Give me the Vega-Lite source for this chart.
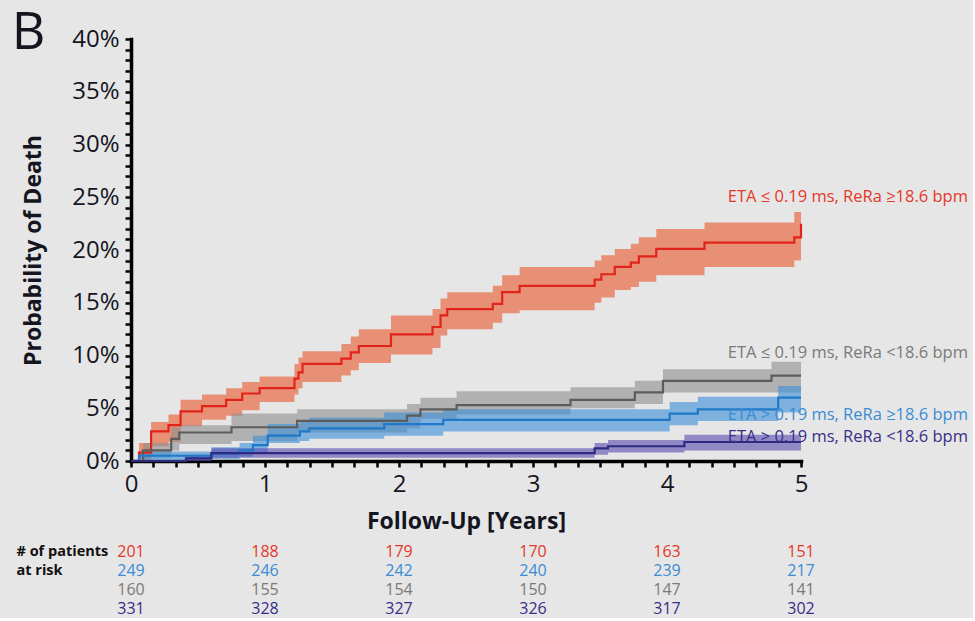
{
  "$schema": "https://vega.github.io/schema/vega-lite/v6.json",
  "background": "#e6e6e6",
  "padding": {"left": 11, "top": 7, "right": 5, "bottom": 0},
  "config": {
    "view": {"stroke": null},
    "font": "Open Sans",
    "text": {"font": "Open Sans"},
    "axis": {"labelOverlap": false, "labelBound": false}
  },
  "datasets": {
    "curves": [
      {"g": "ETA ≤ 0.19 ms, ReRa ≥18.6 bpm", "t": 0, "p": 0, "lo": 0, "hi": 0},
      {"g": "ETA ≤ 0.19 ms, ReRa ≥18.6 bpm", "t": 0.06, "p": 0.8, "lo": 0.1, "hi": 1.7},
      {"g": "ETA ≤ 0.19 ms, ReRa ≥18.6 bpm", "t": 0.15, "p": 2.8, "lo": 1.4, "hi": 3.7},
      {"g": "ETA ≤ 0.19 ms, ReRa ≥18.6 bpm", "t": 0.28, "p": 3.4, "lo": 1.8, "hi": 4.4},
      {"g": "ETA ≤ 0.19 ms, ReRa ≥18.6 bpm", "t": 0.37, "p": 4.7, "lo": 3.3, "hi": 5.8},
      {"g": "ETA ≤ 0.19 ms, ReRa ≥18.6 bpm", "t": 0.53, "p": 5.2, "lo": 3.9, "hi": 6.3},
      {"g": "ETA ≤ 0.19 ms, ReRa ≥18.6 bpm", "t": 0.71, "p": 5.8, "lo": 4.3, "hi": 6.9},
      {"g": "ETA ≤ 0.19 ms, ReRa ≥18.6 bpm", "t": 0.83, "p": 6.4, "lo": 4.8, "hi": 7.5},
      {"g": "ETA ≤ 0.19 ms, ReRa ≥18.6 bpm", "t": 0.96, "p": 6.9, "lo": 5.6, "hi": 8.0},
      {"g": "ETA ≤ 0.19 ms, ReRa ≥18.6 bpm", "t": 1.22, "p": 7.8, "lo": 6.3, "hi": 9.2},
      {"g": "ETA ≤ 0.19 ms, ReRa ≥18.6 bpm", "t": 1.25, "p": 8.4, "lo": 6.9, "hi": 9.8},
      {"g": "ETA ≤ 0.19 ms, ReRa ≥18.6 bpm", "t": 1.28, "p": 9.2, "lo": 7.5, "hi": 10.4},
      {"g": "ETA ≤ 0.19 ms, ReRa ≥18.6 bpm", "t": 1.57, "p": 9.7, "lo": 8.1, "hi": 11.1},
      {"g": "ETA ≤ 0.19 ms, ReRa ≥18.6 bpm", "t": 1.64, "p": 10.3, "lo": 8.6, "hi": 11.8},
      {"g": "ETA ≤ 0.19 ms, ReRa ≥18.6 bpm", "t": 1.70, "p": 10.9, "lo": 9.3, "hi": 12.5},
      {"g": "ETA ≤ 0.19 ms, ReRa ≥18.6 bpm", "t": 1.94, "p": 12.0, "lo": 10.1, "hi": 13.8},
      {"g": "ETA ≤ 0.19 ms, ReRa ≥18.6 bpm", "t": 2.25, "p": 12.7, "lo": 10.7, "hi": 14.4},
      {"g": "ETA ≤ 0.19 ms, ReRa ≥18.6 bpm", "t": 2.31, "p": 13.8, "lo": 11.9, "hi": 15.4},
      {"g": "ETA ≤ 0.19 ms, ReRa ≥18.6 bpm", "t": 2.36, "p": 14.4, "lo": 12.5, "hi": 16.0},
      {"g": "ETA ≤ 0.19 ms, ReRa ≥18.6 bpm", "t": 2.70, "p": 14.9, "lo": 13.1, "hi": 16.6},
      {"g": "ETA ≤ 0.19 ms, ReRa ≥18.6 bpm", "t": 2.77, "p": 16.0, "lo": 14.0, "hi": 17.6},
      {"g": "ETA ≤ 0.19 ms, ReRa ≥18.6 bpm", "t": 2.90, "p": 16.6, "lo": 14.3, "hi": 18.4},
      {"g": "ETA ≤ 0.19 ms, ReRa ≥18.6 bpm", "t": 3.46, "p": 17.2, "lo": 15.0, "hi": 19.0},
      {"g": "ETA ≤ 0.19 ms, ReRa ≥18.6 bpm", "t": 3.51, "p": 17.7, "lo": 15.5, "hi": 19.5},
      {"g": "ETA ≤ 0.19 ms, ReRa ≥18.6 bpm", "t": 3.61, "p": 18.4, "lo": 16.2, "hi": 20.1},
      {"g": "ETA ≤ 0.19 ms, ReRa ≥18.6 bpm", "t": 3.73, "p": 18.8, "lo": 16.5, "hi": 20.6},
      {"g": "ETA ≤ 0.19 ms, ReRa ≥18.6 bpm", "t": 3.79, "p": 19.4, "lo": 17.0, "hi": 21.2},
      {"g": "ETA ≤ 0.19 ms, ReRa ≥18.6 bpm", "t": 3.92, "p": 20.1, "lo": 17.6, "hi": 22.0},
      {"g": "ETA ≤ 0.19 ms, ReRa ≥18.6 bpm", "t": 4.28, "p": 20.7, "lo": 18.4, "hi": 22.6},
      {"g": "ETA ≤ 0.19 ms, ReRa ≥18.6 bpm", "t": 4.95, "p": 21.2, "lo": 19.0, "hi": 23.6},
      {"g": "ETA ≤ 0.19 ms, ReRa ≥18.6 bpm", "t": 5.0, "p": 22.5, "lo": 19.0, "hi": 23.6},

      {"g": "ETA ≤ 0.19 ms, ReRa <18.6 bpm", "t": 0, "p": 0, "lo": 0, "hi": 0},
      {"g": "ETA ≤ 0.19 ms, ReRa <18.6 bpm", "t": 0.09, "p": 1.0, "lo": 0.3, "hi": 1.7},
      {"g": "ETA ≤ 0.19 ms, ReRa <18.6 bpm", "t": 0.30, "p": 2.1, "lo": 1.0, "hi": 3.2},
      {"g": "ETA ≤ 0.19 ms, ReRa <18.6 bpm", "t": 0.36, "p": 2.7, "lo": 1.6, "hi": 3.4},
      {"g": "ETA ≤ 0.19 ms, ReRa <18.6 bpm", "t": 0.75, "p": 3.2, "lo": 1.9, "hi": 4.5},
      {"g": "ETA ≤ 0.19 ms, ReRa <18.6 bpm", "t": 1.24, "p": 3.8, "lo": 2.7, "hi": 4.9},
      {"g": "ETA ≤ 0.19 ms, ReRa <18.6 bpm", "t": 2.06, "p": 4.3, "lo": 3.1, "hi": 5.4},
      {"g": "ETA ≤ 0.19 ms, ReRa <18.6 bpm", "t": 2.16, "p": 4.9, "lo": 4.0, "hi": 6.0},
      {"g": "ETA ≤ 0.19 ms, ReRa <18.6 bpm", "t": 2.43, "p": 5.3, "lo": 4.4, "hi": 6.6},
      {"g": "ETA ≤ 0.19 ms, ReRa <18.6 bpm", "t": 3.28, "p": 5.8, "lo": 5.0, "hi": 7.0},
      {"g": "ETA ≤ 0.19 ms, ReRa <18.6 bpm", "t": 3.76, "p": 6.5, "lo": 5.4, "hi": 7.6},
      {"g": "ETA ≤ 0.19 ms, ReRa <18.6 bpm", "t": 3.97, "p": 7.6, "lo": 6.5, "hi": 8.7},
      {"g": "ETA ≤ 0.19 ms, ReRa <18.6 bpm", "t": 4.78, "p": 8.1, "lo": 6.5, "hi": 9.4},
      {"g": "ETA ≤ 0.19 ms, ReRa <18.6 bpm", "t": 5.0, "p": 8.1, "lo": 6.5, "hi": 9.4},

      {"g": "ETA > 0.19 ms, ReRa ≥18.6 bpm", "t": 0, "p": 0, "lo": 0, "hi": 0},
      {"g": "ETA > 0.19 ms, ReRa ≥18.6 bpm", "t": 0.06, "p": 0.5, "lo": 0.1, "hi": 0.9},
      {"g": "ETA > 0.19 ms, ReRa ≥18.6 bpm", "t": 0.60, "p": 0.7, "lo": 0.2, "hi": 1.3},
      {"g": "ETA > 0.19 ms, ReRa ≥18.6 bpm", "t": 0.81, "p": 1.0, "lo": 0.4, "hi": 1.7},
      {"g": "ETA > 0.19 ms, ReRa ≥18.6 bpm", "t": 0.91, "p": 1.5, "lo": 0.7, "hi": 2.4},
      {"g": "ETA > 0.19 ms, ReRa ≥18.6 bpm", "t": 1.02, "p": 2.4, "lo": 1.7, "hi": 3.5},
      {"g": "ETA > 0.19 ms, ReRa ≥18.6 bpm", "t": 1.26, "p": 2.8, "lo": 1.9, "hi": 3.8},
      {"g": "ETA > 0.19 ms, ReRa ≥18.6 bpm", "t": 1.33, "p": 3.1, "lo": 2.1, "hi": 4.1},
      {"g": "ETA > 0.19 ms, ReRa ≥18.6 bpm", "t": 1.89, "p": 3.5, "lo": 2.4, "hi": 4.6},
      {"g": "ETA > 0.19 ms, ReRa ≥18.6 bpm", "t": 2.33, "p": 3.9, "lo": 2.8, "hi": 4.9},
      {"g": "ETA > 0.19 ms, ReRa ≥18.6 bpm", "t": 4.02, "p": 4.5, "lo": 3.4, "hi": 5.6},
      {"g": "ETA > 0.19 ms, ReRa ≥18.6 bpm", "t": 4.23, "p": 4.9, "lo": 3.8, "hi": 6.1},
      {"g": "ETA > 0.19 ms, ReRa ≥18.6 bpm", "t": 4.83, "p": 6.0, "lo": 4.6, "hi": 7.1},
      {"g": "ETA > 0.19 ms, ReRa ≥18.6 bpm", "t": 5.0, "p": 6.0, "lo": 4.6, "hi": 7.1},

      {"g": "ETA > 0.19 ms, ReRa <18.6 bpm", "t": 0, "p": 0, "lo": 0, "hi": 0},
      {"g": "ETA > 0.19 ms, ReRa <18.6 bpm", "t": 0.41, "p": 0.25, "lo": 0.0, "hi": 0.6},
      {"g": "ETA > 0.19 ms, ReRa <18.6 bpm", "t": 0.60, "p": 0.75, "lo": 0.3, "hi": 1.2},
      {"g": "ETA > 0.19 ms, ReRa <18.6 bpm", "t": 3.46, "p": 1.2, "lo": 0.6, "hi": 1.7},
      {"g": "ETA > 0.19 ms, ReRa <18.6 bpm", "t": 3.56, "p": 1.4, "lo": 0.8, "hi": 2.0},
      {"g": "ETA > 0.19 ms, ReRa <18.6 bpm", "t": 4.13, "p": 1.8, "lo": 1.0, "hi": 2.5},
      {"g": "ETA > 0.19 ms, ReRa <18.6 bpm", "t": 5.0, "p": 1.8, "lo": 1.0, "hi": 2.5}
    ],
    "labels": [
      {"g": "ETA ≤ 0.19 ms, ReRa ≥18.6 bpm", "y": 25.0},
      {"g": "ETA ≤ 0.19 ms, ReRa <18.6 bpm", "y": 10.2},
      {"g": "ETA > 0.19 ms, ReRa ≥18.6 bpm", "y": 4.4},
      {"g": "ETA > 0.19 ms, ReRa <18.6 bpm", "y": 2.3}
    ],
    "risk": [
      {"g": "ETA ≤ 0.19 ms, ReRa ≥18.6 bpm", "t": 0, "n": 201},
      {"g": "ETA ≤ 0.19 ms, ReRa ≥18.6 bpm", "t": 1, "n": 188},
      {"g": "ETA ≤ 0.19 ms, ReRa ≥18.6 bpm", "t": 2, "n": 179},
      {"g": "ETA ≤ 0.19 ms, ReRa ≥18.6 bpm", "t": 3, "n": 170},
      {"g": "ETA ≤ 0.19 ms, ReRa ≥18.6 bpm", "t": 4, "n": 163},
      {"g": "ETA ≤ 0.19 ms, ReRa ≥18.6 bpm", "t": 5, "n": 151},
      {"g": "ETA > 0.19 ms, ReRa ≥18.6 bpm", "t": 0, "n": 249},
      {"g": "ETA > 0.19 ms, ReRa ≥18.6 bpm", "t": 1, "n": 246},
      {"g": "ETA > 0.19 ms, ReRa ≥18.6 bpm", "t": 2, "n": 242},
      {"g": "ETA > 0.19 ms, ReRa ≥18.6 bpm", "t": 3, "n": 240},
      {"g": "ETA > 0.19 ms, ReRa ≥18.6 bpm", "t": 4, "n": 239},
      {"g": "ETA > 0.19 ms, ReRa ≥18.6 bpm", "t": 5, "n": 217},
      {"g": "ETA ≤ 0.19 ms, ReRa <18.6 bpm", "t": 0, "n": 160},
      {"g": "ETA ≤ 0.19 ms, ReRa <18.6 bpm", "t": 1, "n": 155},
      {"g": "ETA ≤ 0.19 ms, ReRa <18.6 bpm", "t": 2, "n": 154},
      {"g": "ETA ≤ 0.19 ms, ReRa <18.6 bpm", "t": 3, "n": 150},
      {"g": "ETA ≤ 0.19 ms, ReRa <18.6 bpm", "t": 4, "n": 147},
      {"g": "ETA ≤ 0.19 ms, ReRa <18.6 bpm", "t": 5, "n": 141},
      {"g": "ETA > 0.19 ms, ReRa <18.6 bpm", "t": 0, "n": 331},
      {"g": "ETA > 0.19 ms, ReRa <18.6 bpm", "t": 1, "n": 328},
      {"g": "ETA > 0.19 ms, ReRa <18.6 bpm", "t": 2, "n": 327},
      {"g": "ETA > 0.19 ms, ReRa <18.6 bpm", "t": 3, "n": 326},
      {"g": "ETA > 0.19 ms, ReRa <18.6 bpm", "t": 4, "n": 317},
      {"g": "ETA > 0.19 ms, ReRa <18.6 bpm", "t": 5, "n": 302}
    ]
  },
  "spacing": 9,
  "vconcat": [
    {
      "width": 670,
      "height": 422,
      "title": {
        "text": "B",
        "anchor": "start",
        "frame": "bounds",
        "orient": "top",
        "font": "Open Sans",
        "fontSize": 52,
        "fontWeight": "normal",
        "color": "#15151f",
        "offset": 0,
        "dx": -11,
        "dy": 33
      },
      "layer": [
        {
          "data": {"name": "curves"},
          "mark": {"type": "area", "interpolate": "step-after", "opacity": 0.62},
          "encoding": {
            "x": {
              "field": "t",
              "type": "quantitative",
              "scale": {"domain": [0, 5], "nice": false, "zero": false},
              "axis": {
                "title": "Follow-Up [Years]",
                "titleFont": "Open Sans",
                "titleFontSize": 23,
                "titleFontWeight": "bold",
                "titleColor": "#15151f",
                "titlePadding": 14,
                "values": [0, 0.16667, 0.33333, 0.5, 0.66667, 0.83333, 1, 1.16667, 1.33333, 1.5, 1.66667, 1.83333, 2, 2.16667, 2.33333, 2.5, 2.66667, 2.83333, 3, 3.16667, 3.33333, 3.5, 3.66667, 3.83333, 4, 4.16667, 4.33333, 4.5, 4.66667, 4.83333, 5],
                "tickCount": 60,
                "labelExpr": "abs(datum.value - round(datum.value)) < 0.01 ? format(round(datum.value), 'd') : ''",
                "labelFont": "Open Sans",
                "labelFontSize": 24,
                "labelColor": "#15151f",
                "labelFlush": false,
                "labelOverlap": false,
                "labelPadding": 5,
                "grid": false,
                "domainColor": "#000000",
                "domainWidth": 3.5,
                "domainCap": "square",
                "tickColor": "#000000",
                "tickWidth": 2.5,
                "tickSize": 6
              }
            },
            "y": {
              "field": "lo",
              "type": "quantitative",
              "scale": {"domain": [0, 40], "nice": false, "zero": true},
              "axis": {
                "title": "Probability of Death",
                "titleFont": "Open Sans",
                "titleFontSize": 23,
                "titleFontWeight": "bold",
                "titleColor": "#15151f",
                "titlePadding": 26,
                "values": [0, 1, 2, 3, 4, 5, 6, 7, 8, 9, 10, 11, 12, 13, 14, 15, 16, 17, 18, 19, 20, 21, 22, 23, 24, 25, 26, 27, 28, 29, 30, 31, 32, 33, 34, 35, 36, 37, 38, 39, 40],
                "tickCount": 60,
                "labelExpr": "datum.value % 5 === 0 ? datum.value + '%' : ''",
                "labelFont": "Open Sans",
                "labelFontSize": 24,
                "labelColor": "#15151f",
                "labelOverlap": false,
                "labelPadding": 6,
                "grid": false,
                "domainColor": "#000000",
                "domainWidth": 3.5,
                "domainCap": "square",
                "tickColor": "#000000",
                "tickWidth": 2.5,
                "tickSize": 6
              }
            },
            "y2": {"field": "hi"},
            "fill": {
              "field": "g",
              "type": "nominal",
              "scale": {
                "domain": ["ETA ≤ 0.19 ms, ReRa <18.6 bpm", "ETA > 0.19 ms, ReRa ≥18.6 bpm", "ETA > 0.19 ms, ReRa <18.6 bpm", "ETA ≤ 0.19 ms, ReRa ≥18.6 bpm"],
                "range": ["#8f8f8f", "#3d8fd6", "#5a4fb0", "#e85a30"]
              },
              "legend": null
            }
          }
        },
        {
          "data": {"name": "curves"},
          "mark": {"type": "line", "interpolate": "step-after", "strokeWidth": 2.2},
          "encoding": {
            "x": {"field": "t", "type": "quantitative"},
            "y": {"field": "p", "type": "quantitative"},
            "stroke": {
              "field": "g",
              "type": "nominal",
              "scale": {
                "domain": ["ETA ≤ 0.19 ms, ReRa <18.6 bpm", "ETA > 0.19 ms, ReRa ≥18.6 bpm", "ETA > 0.19 ms, ReRa <18.6 bpm", "ETA ≤ 0.19 ms, ReRa ≥18.6 bpm"],
                "range": ["#5c5c5c", "#1f78c8", "#2e2a80", "#e2231a"]
              },
              "legend": null
            }
          }
        },
        {
          "data": {"name": "labels"},
          "mark": {"type": "text", "align": "right", "baseline": "middle", "dx": 167, "fontSize": 16.5, "font": "Open Sans"},
          "encoding": {
            "x": {"datum": 5, "type": "quantitative"},
            "y": {"field": "y", "type": "quantitative"},
            "text": {"field": "g"},
            "color": {
              "field": "g",
              "type": "nominal",
              "scale": {
                "domain": ["ETA ≤ 0.19 ms, ReRa ≥18.6 bpm", "ETA > 0.19 ms, ReRa ≥18.6 bpm", "ETA ≤ 0.19 ms, ReRa <18.6 bpm", "ETA > 0.19 ms, ReRa <18.6 bpm"],
                "range": ["#e5382a", "#3a8cd6", "#7a7a7a", "#3a2e88"]
              },
              "legend": null
            }
          }
        }
      ]
    },
    {
      "width": 670,
      "height": 76,
      "data": {"name": "risk"},
      "mark": {"type": "text", "align": "center", "baseline": "middle", "fontSize": 16, "font": "Open Sans"},
      "encoding": {
        "x": {
          "field": "t",
          "type": "quantitative",
          "scale": {"domain": [0, 5], "nice": false, "zero": false},
          "axis": null
        },
        "y": {
          "field": "g",
          "type": "nominal",
          "sort": ["ETA ≤ 0.19 ms, ReRa ≥18.6 bpm", "ETA > 0.19 ms, ReRa ≥18.6 bpm", "ETA ≤ 0.19 ms, ReRa <18.6 bpm", "ETA > 0.19 ms, ReRa <18.6 bpm"],
          "axis": {
            "title": null,
            "domain": false,
            "ticks": false,
            "tickSize": 0,
            "labelAlign": "left",
            "labelPadding": 115,
            "labelFont": "Open Sans",
            "labelFontSize": 14.5,
            "labelFontWeight": "bold",
            "labelColor": "#111111",
            "labelExpr": "datum.value === 'ETA ≤ 0.19 ms, ReRa ≥18.6 bpm' ? '# of patients' : (datum.value === 'ETA > 0.19 ms, ReRa ≥18.6 bpm' ? 'at risk' : '')"
          }
        },
        "text": {"field": "n"},
        "color": {
          "field": "g",
          "type": "nominal",
          "scale": {
            "domain": ["ETA ≤ 0.19 ms, ReRa ≥18.6 bpm", "ETA > 0.19 ms, ReRa ≥18.6 bpm", "ETA ≤ 0.19 ms, ReRa <18.6 bpm", "ETA > 0.19 ms, ReRa <18.6 bpm"],
            "range": ["#e5382a", "#3a8cd6", "#7a7a7a", "#3a2e88"]
          },
          "legend": null
        }
      }
    }
  ]
}
